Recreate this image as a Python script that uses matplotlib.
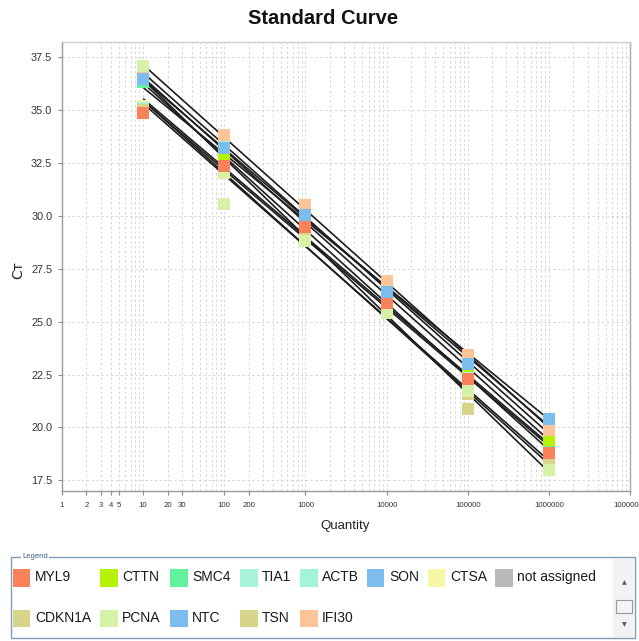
import numpy as np
import matplotlib
matplotlib.use("Agg")
import matplotlib.pyplot as plt
from matplotlib.patches import Rectangle
from matplotlib.ticker import FixedLocator, LogLocator, NullFormatter

# ---------------- data ----------------
quantities = [10, 100, 1000, 10000, 100000, 1000000]

# CT values per gene at each quantity (draw order: bottom -> top)
ct_CTSA   = [35.2, 33.5, 30.4, 26.8, 23.3, 20.1]
ct_TIA1   = [35.1, 32.5, 29.3, 25.8, 22.65, 18.9]
ct_ACTB   = [36.6, 33.3, 30.2, 26.6, 23.1, 19.6]
ct_SMC4   = [36.3, 32.6, 29.5, 26.0, 22.2, 19.0]
ct_TSN    = [34.9, 32.1, 28.9, 25.4, 21.6, 18.3]
ct_CDKN1A = [35.0, 32.2, 29.1, 25.5, 20.85, 18.5]
ct_CTTN   = [36.7, 32.8, 29.8, 26.2, 22.9, 19.4]
ct_IFI30  = [36.9, 33.8, 30.5, 26.9, 23.4, 19.9]
ct_PCNA   = [37.07, 32.0, 28.8, 25.4, 21.7, 18.0]
ct_MYL9   = [34.85, 32.35, 29.45, 25.9, 22.3, 18.8]
ct_SON    = [36.46, 33.2, 30.05, 26.4, 23.0, 20.4]

# extra replicate points
extra_gene = ["PCNA"]
extra_qty = [100]
extra_ct = [30.57]

plot_genes = ["CTSA", "TIA1", "ACTB", "SMC4", "TSN", "CDKN1A", "CTTN",
              "IFI30", "PCNA", "MYL9", "SON"]
plot_values = [ct_CTSA, ct_TIA1, ct_ACTB, ct_SMC4, ct_TSN, ct_CDKN1A,
               ct_CTTN, ct_IFI30, ct_PCNA, ct_MYL9, ct_SON]

legend_row1 = ["MYL9", "CTTN", "SMC4", "TIA1", "ACTB", "SON", "CTSA", "not assigned"]
legend_row2 = ["CDKN1A", "PCNA", "NTC", "TSN", "IFI30"]

gene_colors = {
    "MYL9": "#F9825A", "CTTN": "#B5F205", "SMC4": "#62F29E", "TIA1": "#A8F4DA",
    "ACTB": "#A4F5D8", "SON": "#7DBDED", "CTSA": "#F6F8A8", "not assigned": "#B9B9B9",
    "CDKN1A": "#D8D58A", "PCNA": "#D5F2A8", "NTC": "#7DBDED", "TSN": "#D8D58A",
    "IFI30": "#FDC597",
}

x_tick_values = [1, 2, 3, 4, 5, 10, 20, 30, 100, 200, 1000, 10000, 100000, 1000000, 10000000]
x_tick_labels = ["1", "2", "3", "4", "5", "10", "20", "30", "100", "200", "1000",
                 "10000", "100000", "1000000", "10000000"]
y_ticks = [17.5, 20.0, 22.5, 25.0, 27.5, 30.0, 32.5, 35.0, 37.5]

# ---------------- figure ----------------
W, H = 639, 641
fig = plt.figure(figsize=(W / 100, H / 100), dpi=100)
fig.patch.set_facecolor("white")

regular = ["Liberation Sans", "DejaVu Sans"]

L, R, T, B = 62, 630, 42, 491
ax = fig.add_axes([L / W, 1 - B / H, (R - L) / W, (B - T) / H])
ax.set_xscale("log")
ax.set_xlim(1, 1e7)
ax.set_ylim(17.0, 38.2)

# grid
ax.xaxis.set_minor_locator(LogLocator(base=10, subs=np.arange(2, 10)))
ax.xaxis.set_minor_formatter(NullFormatter())
ax.xaxis.set_major_locator(FixedLocator(x_tick_values))
ax.set_xticklabels(x_tick_labels)
ax.set_yticks(y_ticks)
ax.set_yticklabels([f"{v:.1f}" for v in y_ticks])
ax.grid(True, which="both", axis="x", color="#d6d6d6", linestyle=(0, (2.5, 2.5)), lw=0.7)
ax.grid(True, which="major", axis="y", color="#d6d6d6", linestyle=(0, (2.5, 2.5)), lw=0.7)
ax.set_axisbelow(True)

for s in ax.spines.values():
    s.set_color("#9a9a9a")
    s.set_linewidth(1.0)
ax.spines["top"].set_color("#cfcfcf")
ax.spines["right"].set_color("#a8a8a8")

ax.tick_params(axis="x", which="major", length=3, width=0.8, color="#888888",
               pad=5, labelsize=5.6, labelcolor="#333333")
ax.tick_params(axis="x", which="minor", length=0)
ax.tick_params(axis="y", which="major", length=3, width=0.8, color="#888888",
               pad=4, labelsize=7.8, labelcolor="#333333")
for lab in ax.get_xticklabels() + ax.get_yticklabels():
    lab.set_family(regular)

# fit lines
logq = np.log10(quantities)
xs = np.array([quantities[0], quantities[-1]], dtype=float)
for g, vals in zip(plot_genes, plot_values):
    k, b = np.polyfit(logq, vals, 1)
    ax.plot(xs, k * np.log10(xs) + b, color="#1e1e1e", lw=1.2, zorder=2,
            solid_capstyle="butt")

# markers
for g, vals in zip(plot_genes, plot_values):
    ax.plot(quantities, vals, linestyle="none", marker="s", markersize=9,
            markeredgewidth=0, color=gene_colors[g], zorder=3)
for g, q, c in zip(extra_gene, extra_qty, extra_ct):
    ax.plot([q], [c], linestyle="none", marker="s", markersize=9,
            markeredgewidth=0, color=gene_colors[g], zorder=3)

# titles
fig.text(323 / W, 1 - 19 / H, "Standard Curve", ha="center", va="center",
         fontsize=14.5, fontweight="bold", family=regular, color="#111111")
fig.text(345 / W, 1 - 526 / H, "Quantity", ha="center", va="center",
         fontsize=9.5, family=regular, color="#222222")
fig.text(18 / W, 1 - 270 / H, "Cᴛ", ha="center", va="center", rotation=90,
         fontsize=10, family=["DejaVu Sans"], color="#222222")

# ---------------- legend panel ----------------
def px(x, y):
    return x / W, 1 - y / H

box = Rectangle(px(11, 638), (635 - 11) / W, (638 - 557) / H, transform=fig.transFigure,
                fill=False, edgecolor="#7F9DB9", lw=1.0)
fig.add_artist(box)
fig.text(*px(22, 556), "Legend", ha="left", va="center", fontsize=5.5,
         family=regular, color="#3D5F8A",
         bbox=dict(facecolor="white", edgecolor="none", pad=1.0))

row1_x = [13, 100, 170, 240, 300, 367, 428, 495]
row2_x = [13, 100, 170, 240, 300]
for names, xposs, yc in ((legend_row1, row1_x, 578), (legend_row2, row2_x, 618.5)):
    for name, xp in zip(names, xposs):
        fig.add_artist(Rectangle(px(xp, yc + 8.5), 17.5 / W, 17.5 / H,
                                 transform=fig.transFigure, facecolor=gene_colors[name],
                                 edgecolor="none"))
        fig.text(*px(xp + 22, yc - 1), name, ha="left", va="center", fontsize=10,
                 family=regular, color="#1a1a1a")

# scrollbar
fig.add_artist(Rectangle(px(613, 637), (634 - 613) / W, (637 - 559) / H,
                         transform=fig.transFigure, facecolor="#f2f2f2", edgecolor="none"))
fig.add_artist(Rectangle(px(616, 613), (632 - 616) / W, (613 - 600) / H,
                         transform=fig.transFigure, facecolor="#f4f4f4",
                         edgecolor="#9a9a9a", lw=0.8))
fig.text(*px(624.5, 583), "▲", ha="center", va="center", fontsize=4.5,
         family=["DejaVu Sans"], color="#555555")
fig.text(*px(624.5, 625), "▼", ha="center", va="center", fontsize=4.5,
         family=["DejaVu Sans"], color="#555555")

fig.savefig("out.png", dpi=100, facecolor="white")
